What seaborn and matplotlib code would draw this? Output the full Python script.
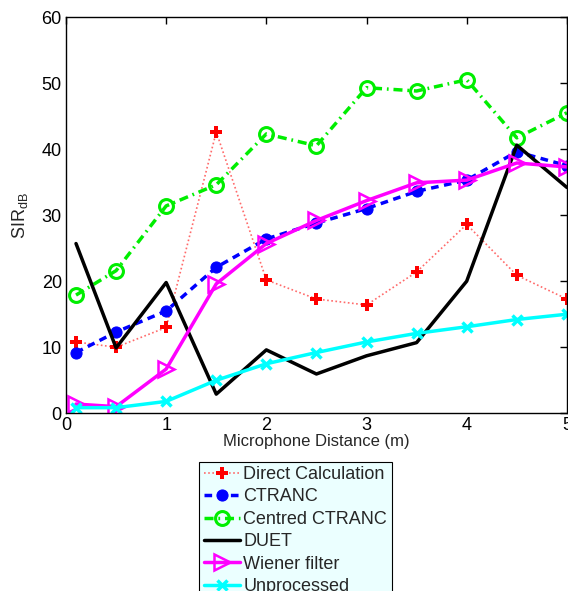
import pandas as pd
import seaborn as sns
import matplotlib.pyplot as plt

sns.set_style('white')
plt.rcParams['font.family'] = ['Liberation Sans', 'DejaVu Sans']
plt.rcParams['mathtext.fontset'] = 'custom'
plt.rcParams['mathtext.rm'] = 'Liberation Sans'

# --- data ---
distance = [0.1, 0.5, 1, 1.5, 2, 2.5, 3, 3.5, 4, 4.5, 5]
direct = [10.8, 10.0, 13.0, 42.6, 20.2, 17.3, 16.4, 21.4, 28.6, 20.9, 17.3]
ctranc = [9.2, 12.3, 15.5, 22.1, 26.4, 28.8, 31.0, 33.6, 35.3, 39.6, 37.5]
centred = [17.9, 21.6, 31.4, 34.6, 42.3, 40.5, 49.3, 48.8, 50.5, 41.7, 45.5]
duet = [25.7, 9.9, 19.8, 2.9, 9.6, 5.95, 8.7, 10.7, 20.0, 40.6, 34.2]
wiener = [1.4, 1.0, 6.7, 19.6, 25.7, 29.2, 32.2, 34.9, 35.3, 37.9, 37.3]
unproc = [0.85, 0.85, 1.8, 5.0, 7.5, 9.2, 10.8, 12.1, 13.1, 14.2, 15.0]

series = [
    ('Direct Calculation', direct, dict(color='#ff6a6a', ls=(0, (1, 1.5)), lw=1.2, marker='P', ms=8,
                                        mfc='red', mec='red', mew=0)),
    ('CTRANC', ctranc, dict(color='blue', ls=(0, (2.2, 1.6)), lw=2.5, marker='o', ms=8,
                            mfc='blue', mec='blue')),
    ('Centred CTRANC', centred, dict(color='#00ee00', ls=(0, (2.6, 1.4, 0.5, 1.4)), lw=2.5,
                                     marker='o', ms=10, mfc='none', mec='#00ee00', mew=2.2)),
    ('DUET', duet, dict(color='black', ls='-', lw=2.5)),
    ('Wiener filter', wiener, dict(color='magenta', ls='-', lw=2.5, marker='>', ms=11,
                                   mfc='none', mec='magenta', mew=1.8)),
    ('Unprocessed', unproc, dict(color='cyan', ls='-', lw=2.5, marker='x', ms=7,
                                 mec='cyan', mew=2.5)),
]

fig = plt.figure(figsize=(5.68, 5.91), dpi=100)
ax = fig.add_axes([0.1162, 0.3007, 0.8818, 0.6705])

for name, vals, kw in series:
    df = pd.DataFrame({'x': distance, 'y': vals})
    sns.lineplot(data=df, x='x', y='y', ax=ax, label=name, **kw)

ax.set_xlim(0, 5)
ax.set_ylim(0, 60)
ax.set_xticks([0, 1, 2, 3, 4, 5])
ax.set_yticks([0, 10, 20, 30, 40, 50, 60])
ax.tick_params(direction='in', length=5, width=1, labelsize=13, top=True, right=True,
               colors='black', pad=3)
for s in ax.spines.values():
    s.set_visible(True)
    s.set_color('black')
    s.set_linewidth(1)

ax.set_xlabel('Microphone Distance (m)', fontsize=12, labelpad=0)
ax.set_ylabel(r'SIR$_\mathregular{dB}$', fontsize=13, labelpad=8)

leg = ax.legend(loc='upper left', bbox_to_anchor=(199 / 568, 1 - 461.5 / 591),
                bbox_transform=fig.transFigure, fontsize=13, frameon=True,
                fancybox=False, framealpha=1, facecolor='#ebffff', edgecolor='black',
                handlelength=2.0, handletextpad=0.2, borderpad=0.25, labelspacing=0.3,
                borderaxespad=0)
leg.get_frame().set_linewidth(0.8)

plt.savefig('out.png', dpi=100)
plt.close()
